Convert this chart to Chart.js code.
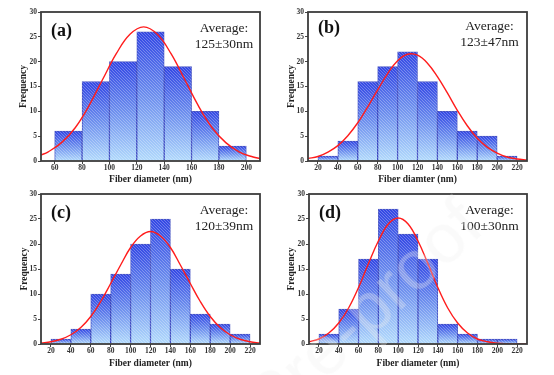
<!DOCTYPE html>
<html>
<head>
<meta charset="utf-8">
<script src="https://cdn.jsdelivr.net/npm/chart.js@4"></script>
<style>
  body { margin: 0; background: #fff; width: 554px; height: 375px; position: relative; overflow: hidden; }
  canvas { position: absolute; }
  .wm {
    position: absolute; left: -230px; top: 178px; width: 700px; height: 70px;
    font: 70px "Liberation Sans", sans-serif; line-height: 70px; text-align: right; white-space: nowrap;
    color: rgba(238, 238, 238, 0.3); transform: rotate(-43deg); transform-origin: 100% 50%;
    pointer-events: none;
  }
</style>
</head>
<body>
<canvas id="ca" width="277" height="190" style="left:0;top:0"></canvas>
<canvas id="cb" width="277" height="190" style="left:277px;top:0"></canvas>
<canvas id="cc" width="277" height="190" style="left:0;top:185px"></canvas>
<canvas id="cd" width="277" height="190" style="left:277px;top:185px"></canvas>
<div class="wm">Journal Pre-proof</div>
<script>
// labels
const panelTags = ["(a)", "(b)", "(c)", "(d)"];
const avgLabels = ["125\u00b130nm", "123\u00b147nm", "120\u00b139nm", "100\u00b130nm"];
const xTitles = ["Fiber diameter (nm)", "Fiber diamter (nm)", "Fiber diameter (nm)", "Fiber diameter (nm)"];

// tick values
const yTicks = [0, 5, 10, 15, 20, 25, 30];
const xTicksA = [60, 80, 100, 120, 140, 160, 180, 200];
const xTicksB = [20, 40, 60, 80, 100, 120, 140, 160, 180, 200, 220];

// histogram bins (bin centres, nm) and counts
const binsA = [70, 90, 110, 130, 150, 170, 190];
const countsA = [6, 16, 20, 26, 19, 10, 3];
const binsB = [30, 50, 70, 90, 110, 130, 150, 170, 190, 210];
const countsB = [1, 4, 16, 19, 22, 16, 10, 6, 5, 1];
const countsC = [1, 3, 10, 14, 20, 25, 15, 6, 4, 2];
const countsD = [2, 7, 17, 27, 22, 17, 4, 2, 1, 1];

// fitted curves
const fitXA = [50, 55, 65, 75, 85, 95, 105, 115, 125, 135, 145, 155, 165, 175, 185, 195, 205, 210];
const fitYA = [1.2, 1.8, 3.7, 6.7, 11.1, 16.4, 21.6, 25.5, 27.0, 25.5, 21.6, 16.4, 11.1, 6.7, 3.7, 1.8, 0.8, 0.5];
const fitXB = [10, 20, 30, 40, 50, 60, 70, 80, 90, 100, 110, 120, 130, 140, 150, 160, 170, 180, 190, 200, 210, 220, 230];
const fitYB = [0.5, 0.9, 1.8, 3.1, 5.1, 7.7, 10.9, 14.3, 17.6, 20.2, 21.5, 21.3, 19.7, 17.0, 13.7, 10.2, 7.1, 4.6, 2.8, 1.6, 0.8, 0.4, 0.2];
const fitYC = [0.2, 0.45, 0.95, 1.85, 3.3, 5.5, 8.5, 12.1, 15.8, 19.3, 21.6, 22.5, 21.6, 19.3, 15.8, 12.1, 8.5, 5.5, 3.3, 1.85, 0.95, 0.45, 0.2];
const fitYD = [0.45, 1.0, 2.2, 4.2, 7.2, 11.3, 16.1, 20.6, 24.0, 25.2, 24.0, 20.6, 16.1, 11.3, 7.2, 4.2, 2.2, 1.0, 0.45, 0.17, 0.06, 0.02, 0];

const serif = "'Liberation Serif', 'Times New Roman', serif";

function barGradient(ctx) {
    const chart = ctx.chart;
    if (!chart.chartArea || ctx.type !== "data") return "#5a74ea";
    const ys = chart.scales.y;
    const top = ys.getPixelForValue(ctx.raw.y);
    const bot = ys.getPixelForValue(0);
    const g = chart.ctx.createLinearGradient(0, top, 0, bot);
    g.addColorStop(0, "#3246e4");
    g.addColorStop(0.5, "#6d8fee");
    g.addColorStop(1, "#b2dafc");
    return g;
}

let hatch = null;
function hatchPattern(ctx) {
    if (hatch) return hatch;
    const c = document.createElement("canvas");
    c.width = 3; c.height = 3;
    const h = c.getContext("2d");
    h.strokeStyle = "rgba(255,255,255,0.35)";
    h.lineWidth = 0.8;
    h.beginPath();
    h.moveTo(-1, -1); h.lineTo(4, 4);
    h.moveTo(-1, 2); h.lineTo(1, 4);
    h.moveTo(2, -1); h.lineTo(4, 1);
    h.stroke();
    hatch = ctx.createPattern(c, "repeat");
    return hatch;
}

const hatchPlugin = {
    id: "hatch",
    afterDatasetDraw(chart, args) {
        if (args.index !== 0) return;
        const ctx = chart.ctx;
        ctx.save();
        ctx.fillStyle = hatchPattern(ctx);
        args.meta.data.forEach(bar => {
            const w = bar.width;
            ctx.fillRect(bar.x - w / 2, bar.y, w, bar.base - bar.y);
        });
        ctx.restore();
    }
};

const framePlugin = {
    id: "frame",
    afterDraw(chart, args, opts) {
        const { ctx, chartArea: a } = chart;
        ctx.save();
        ctx.strokeStyle = "#3c3c3c";
        ctx.lineWidth = 1.8;
        ctx.strokeRect(a.left, a.top, a.right - a.left, a.bottom - a.top);

        ctx.fillStyle = "#111";
        ctx.textAlign = "left";
        ctx.font = "bold 18px " + serif;
        ctx.fillText(opts.tag, a.left + opts.tagX, a.top + opts.tagY);

        ctx.fillStyle = "#222";
        ctx.textAlign = "center";
        ctx.font = "13.5px " + serif;
        ctx.fillText("Average:", a.right - opts.avgX, a.top + opts.avgY);
        ctx.fillText(opts.avg, a.right - opts.avgX, a.top + opts.avgY + 16);
        ctx.restore();
    }
};

function makeChart(id, p) {
    const tickFont = { family: serif, size: 7.5, weight: "bold" };
    const titleFont = { family: serif, size: 9.5, weight: "bold" };
    return new Chart(document.getElementById(id), {
        type: "bar",
        data: {
            datasets: [{
                type: "bar",
                data: p.bins.map((b, i) => ({ x: b, y: p.counts[i] })),
                backgroundColor: barGradient,
                borderColor: "rgba(36,52,185,0.85)",
                borderWidth: 1,
                barPercentage: 1,
                categoryPercentage: 1,
                order: 1
            }, {
                type: "line",
                data: p.fitX.map((x, i) => ({ x: x, y: p.fitY[i] })),
                borderColor: "#ff1c1c",
                borderWidth: 1.4,
                pointRadius: 0,
                tension: 0.4,
                fill: false,
                order: 0
            }]
        },
        options: {
            responsive: false,
            animation: false,
            layout: { padding: { top: p.top, right: 277 - p.right, left: 0, bottom: 0 } },
            plugins: {
                legend: { display: false },
                tooltip: { enabled: false },
                frame: { tag: p.tag, avg: p.avg, tagX: 10, tagY: p.tagY, avgX: p.avgX, avgY: p.avgY }
            },
            scales: {
                x: {
                    type: "linear", min: p.xMin, max: p.xMax, offset: false,
                    afterBuildTicks: s => { s.ticks = p.xTicks.map(v => ({ value: v })); },
                    afterFit: s => { s.height = 190 - p.bottom; s.paddingLeft = 0; s.paddingRight = 0; },
                    grid: { drawOnChartArea: false, tickLength: 3, color: "#444", offset: false },
                    border: { display: false },
                    ticks: { font: tickFont, color: "#333", padding: 0, maxRotation: 0, autoSkip: false },
                    title: { display: true, text: p.xTitle, font: titleFont, color: "#222", padding: { top: 0, bottom: p.xtPad } }
                },
                y: {
                    min: 0, max: 30,
                    afterBuildTicks: s => { s.ticks = yTicks.map(v => ({ value: v })); },
                    afterFit: s => { s.width = p.left; s.paddingTop = 0; s.paddingBottom = 0; },
                    grid: { drawOnChartArea: false, tickLength: 3, color: "#444" },
                    border: { display: false },
                    ticks: { font: tickFont, color: "#333", padding: 1 },
                    title: { display: true, text: "Frequency", font: titleFont, color: "#222", padding: { top: p.ytPad, bottom: 0 } }
                }
            }
        },
        plugins: [hatchPlugin, framePlugin]
    });
}

makeChart("ca", { bins: binsA, counts: countsA, fitX: fitXA, fitY: fitYA, xTicks: xTicksA, xMin: 50, xMax: 210,
    left: 41, top: 12, right: 260, bottom: 161, xtPad: 4.5, ytPad: 17.5,
    tag: panelTags[0], avg: avgLabels[0], xTitle: xTitles[0], tagY: 23.5, avgX: 36, avgY: 19.5 });
makeChart("cb", { bins: binsB, counts: countsB, fitX: fitXB, fitY: fitYB, xTicks: xTicksB, xMin: 10, xMax: 230,
    left: 31, top: 12, right: 250, bottom: 161, xtPad: 4.5, ytPad: 8.5,
    tag: panelTags[1], avg: avgLabels[1], xTitle: xTitles[1], tagY: 20.5, avgX: 37.5, avgY: 17.5 });
makeChart("cc", { bins: binsB, counts: countsC, fitX: fitXB, fitY: fitYC, xTicks: xTicksB, xMin: 10, xMax: 230,
    left: 41, top: 9, right: 260, bottom: 159, xtPad: 5.5, ytPad: 18.5,
    tag: panelTags[2], avg: avgLabels[2], xTitle: xTitles[2], tagY: 23.5, avgX: 36, avgY: 20 });
makeChart("cd", { bins: binsB, counts: countsD, fitX: fitXB, fitY: fitYD, xTicks: xTicksB, xMin: 10, xMax: 230,
    left: 32, top: 9, right: 250, bottom: 159, xtPad: 5.5, ytPad: 8.5,
    tag: panelTags[3], avg: avgLabels[3], xTitle: xTitles[3], tagY: 23.5, avgX: 37.5, avgY: 19.5 });
</script>
</body>
</html>
